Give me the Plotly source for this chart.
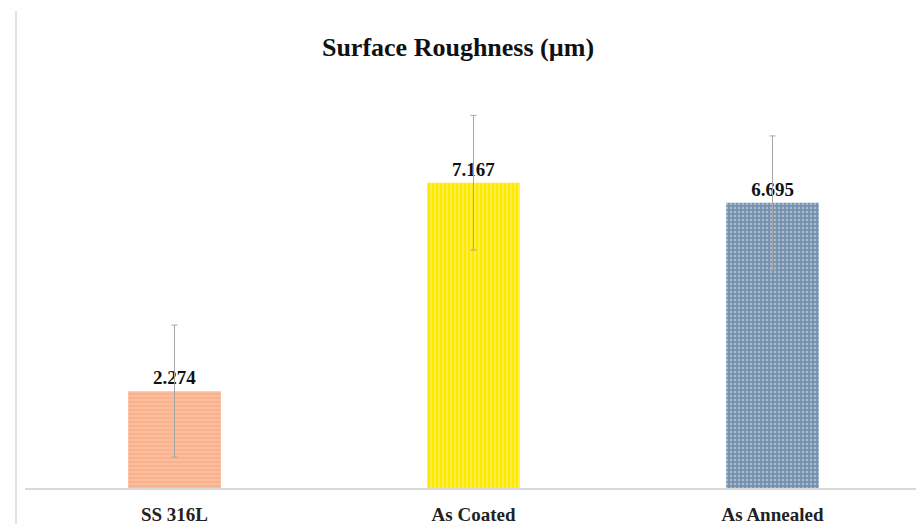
import plotly.graph_objects as go

categories = ["SS 316L", "As Coated", "As Annealed"]
values = [2.274, 7.167, 6.695]
errors = [1.55, 1.58, 1.57]
base_colors = ["#F9B18E", "#FFE900", "#7792AF"]
pattern_colors = ["#FFC6A6", "#FFF36A", "#A9BCD0"]
pattern_shapes = ["-", "|", "."]

FONT = "Liberation Serif"

fig = go.Figure()
for cat, val, err, bc, pc, ps in zip(categories, values, errors,
                                     base_colors, pattern_colors, pattern_shapes):
    fig.add_trace(go.Bar(
        x=[cat],
        y=[val],
        width=0.31,
        marker=dict(
            color=bc,
            line=dict(width=0),
            pattern=dict(shape=ps, fgcolor=pc, fgopacity=1,
                         size=4, solidity=0.3, fillmode="overlay"),
        ),
        error_y=dict(type="data", array=[err], visible=True,
                     color="#A6A6A6", thickness=1, width=3),
        text=[f"{val:.3f}"],
        textposition="outside",
        textfont=dict(family=FONT, size=19, color="#111111", weight="bold"),
        cliponaxis=False,
        hoverinfo="x+y",
        name=cat,
    ))

fig.update_layout(
    width=916, height=516,
    barmode="overlay",
    margin=dict(l=17, r=2, t=54, b=36, autoexpand=False),
    paper_bgcolor="white", plot_bgcolor="white",
    showlegend=False,
    title=dict(text="Surface Roughness (µm)",
               font=dict(family=FONT, size=26, color="#111111", weight="bold"),
               x=450 / 916, xref="container", xanchor="center",
               y=1 - 39 / 516, yref="container", yanchor="middle"),
    xaxis=dict(showline=True, linecolor="#D9D9D9", linewidth=1.5,
               ticks="outside", ticklen=8, tickcolor="rgba(0,0,0,0)",
               tickfont=dict(family=FONT, size=19, color="#222222", weight="bold"),
               showgrid=False, automargin=False,
               categoryorder="array", categoryarray=categories),
    yaxis=dict(range=[0, 10], visible=False, showgrid=False, automargin=False),
    shapes=[dict(type="line", xref="paper", yref="paper",
                 x0=-0.01, x1=-0.01, y0=1.12, y1=-0.1,
                 line=dict(color="#E3E3E3", width=2), layer="below")],
)

fig.write_html("out.html")
